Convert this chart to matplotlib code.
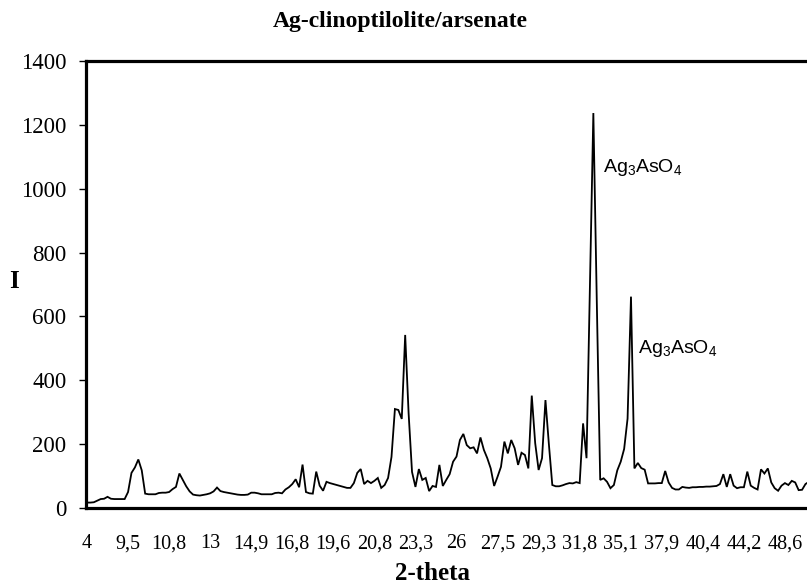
import numpy as np
import matplotlib
matplotlib.use("Agg")
import matplotlib.pyplot as plt

plt.rcParams['mathtext.fontset'] = 'custom'
plt.rcParams['mathtext.rm'] = 'Liberation Sans'
plt.rcParams['mathtext.it'] = 'Liberation Sans:italic'

title = "Ag-clinoptilolite/arsenate"
x_label = "2-theta"
y_label = "I"
tick_labels = ["4", "9,5", "10,8", "13", "14,9", "16,8", "19,6", "20,8", "23,3", "26",
               "27,5", "29,3", "31,8", "35,1", "37,9", "40,4", "44,2", "48,6"]
label_every = 12
intensity = [
    17, 17, 18, 23, 28, 29, 35, 29, 28, 28, 28, 28,
    50, 110, 127, 152, 118, 45, 43, 43, 43, 47, 48, 48,
    50, 59, 66, 108, 88, 68, 52, 42, 40, 39, 41, 43,
    46, 52, 64, 53, 50, 48, 46, 44, 42, 41, 41, 42,
    48, 48, 46, 43, 43, 43, 43, 47, 48, 46, 58, 65,
    75, 90, 65, 136, 50, 46, 45, 114, 70, 54, 82, 78,
    75, 72, 69, 66, 63, 63, 78, 110, 122, 75, 85, 78,
    85, 94, 63, 72, 94, 160, 310, 307, 279, 542, 297, 113,
    66, 122, 88, 94, 53, 69, 66, 135, 69, 88, 106, 145,
    161, 213, 232, 197, 187, 190, 171, 221, 182, 156, 124, 69,
    98, 129, 208, 171, 213, 187, 135, 173, 166, 124, 352, 203,
    119, 156, 338, 200, 72, 68, 68, 71, 75, 78, 77, 81,
    78, 265, 156, 700, 1237, 650, 88, 93, 82, 62, 72, 118,
    145, 185, 280, 662, 124, 141, 125, 120, 77, 77, 77, 78,
    78, 116, 80, 63, 58, 58, 66, 64, 63, 65, 65, 66,
    66, 67, 67, 68, 69, 75, 106, 66, 106, 70, 62, 65,
    65, 114, 70, 63, 58, 121, 108, 124, 80, 62, 54, 70,
    78, 72, 85, 80, 56, 57, 75, 82,
]
annotations = [("Ag$_3$AsO$_4$", 150.8, 1068), ("Ag$_3$AsO$_4$", 161.0, 501)]

W, H = 807, 583
fig = plt.figure(figsize=(W / 100, H / 100), dpi=100)
u = 3.4213  # px per category
left_px, bottom_px, top_px = 86, 508, 61
x0 = (left_px - 87) / u
x1 = 215
right_px = 87 + x1 * u
ax = fig.add_axes([left_px / W, 1 - bottom_px / H, (right_px - left_px) / W, (bottom_px - top_px) / H])

x = np.arange(len(intensity))
ax.plot(x, intensity, color='black', lw=1.3, solid_joinstyle='miter')
ax.set_xlim(x0, x1)
ax.set_ylim(0, 1400)

for s in ['left', 'bottom', 'top']:
    ax.spines[s].set_linewidth(2.3)
ax.spines['right'].set_visible(False)

serif = 'Liberation Serif'
ax.set_yticks(np.arange(0, 1401, 200))
ax.tick_params(axis='y', direction='out', length=5, width=1, pad=9, labelsize=16.5)
ax.set_xticks(np.arange(0, len(tick_labels) * label_every, label_every))
ax.set_xticklabels(tick_labels)
ax.tick_params(axis='x', length=0, pad=19, labelsize=14.5)
for lab in ax.get_xticklabels() + ax.get_yticklabels():
    lab.set_fontfamily(serif)

for txt, xi, yv in annotations:
    ax.text(xi, yv, txt, fontsize=14, family='Liberation Sans', va='center', ha='left')

fig.text(400 / W, 1 - 22 / H, title, ha='center', va='center', fontsize=17,
         fontweight='bold', family=serif)
fig.text(433 / W, 1 - 573 / H, x_label, ha='center', va='center', fontsize=18,
         fontweight='bold', family=serif)
fig.text(14 / W, 1 - 282 / H, y_label, ha='center', va='center', fontsize=18,
         fontweight='bold', family=serif)

fig.savefig("out.png", dpi=100)
